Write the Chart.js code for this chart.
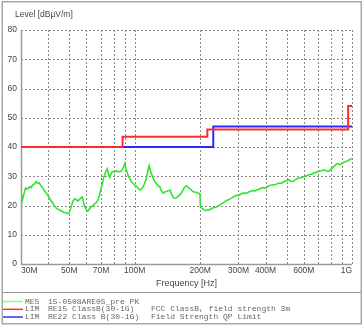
<!DOCTYPE html>
<html>
<head>
<meta charset="utf-8">
<script src="https://cdn.jsdelivr.net/npm/chart.js@4/dist/chart.umd.min.js"></script>
<style>
html,body{margin:0;padding:0;background:#fff;}
canvas{display:block;}
</style>
</head>
<body>
<canvas id="c" width="363" height="326"></canvas>
<script>
// ---- data ----
const xGridValues = [30,40,50,60,70,80,90,100,200,300,400,500,600,700,800,900,1000];
const xTickLabels = {30:'30M',50:'50M',70:'70M',100:'100M',200:'200M',300:'300M',400:'400M',600:'600M',1000:'1G'};
const yTicks = [0,10,20,30,40,50,60,70,80];

const measFreq = [30.0,30.4,30.9,31.5,32.2,32.8,33.4,33.9,34.6,35.2,35.8,36.4,37.2,37.9,38.6,39.2,40.0,40.6,41.3,42.0,42.8,43.6,44.6,45.9,47.0,48.3,49.3,50.2,51.0,52.0,52.9,54.0,54.8,55.5,56.5,57.5,58.2,58.9,59.9,60.9,62.0,63.0,64.2,65.5,66.6,67.8,68.8,69.8,70.8,71.8,72.8,73.8,74.9,75.8,76.8,77.8,78.9,80.5,82.4,84.2,86.4,88.0,89.2,90.1,91.2,92.3,93.6,95.0,96.5,97.9,100.0,101.5,103.0,104.3,105.6,107.5,109.5,111.5,113.3,115.0,116.6,118.5,121.1,123.5,126.7,128.5,130.6,132.8,135.0,137.5,139.8,142.5,145.3,148.0,150.3,153.0,155.7,158.5,161.5,165.0,168.0,170.3,173.0,176.0,179.0,182.0,185.0,188.5,192.0,195.5,198.0,199.6,200.8,203.5,207.0,211.0,215.0,220.0,225.0,230.0,236.0,242.0,248.0,254.0,260.0,266.0,273.0,280.0,286.0,293.0,300.0,308.0,318.0,325.0,333.0,341.0,349.0,358.0,368.0,379.0,390.0,400.0,410.0,420.0,430.0,445.0,460.0,474.0,487.0,500.0,512.0,524.0,536.0,550.0,566.0,583.0,600.0,617.0,634.0,651.0,668.0,686.0,705.0,724.0,743.0,763.0,784.0,805.0,827.0,841.0,855.0,869.0,883.0,907.0,932.0,957.0,982.0,1000.0];
const measLevel = [24.5,21.6,23.8,26.0,25.6,26.4,26.1,27.0,27.4,28.2,27.6,27.7,26.6,25.9,24.9,24.3,23.2,22.6,21.5,20.8,19.8,19.1,18.6,18.2,17.7,17.5,17.2,17.8,19.6,21.4,22.3,22.0,21.5,21.9,22.6,22.9,21.0,19.6,18.6,18.1,18.9,19.5,19.9,20.6,21.0,21.9,23.4,25.3,27.0,29.2,30.5,31.8,32.6,30.6,29.6,30.8,31.6,31.4,31.9,31.5,31.7,32.4,33.4,34.3,32.6,31.4,30.0,29.2,28.3,27.7,27.0,26.6,26.3,25.8,25.4,25.6,26.5,27.8,29.4,31.8,33.6,31.6,29.7,28.3,27.1,26.8,26.3,25.1,24.2,24.6,24.8,25.0,25.3,23.8,22.8,22.4,22.6,23.1,23.6,24.6,25.7,26.4,26.7,26.3,25.8,25.4,24.8,24.6,24.5,24.3,24.1,23.8,19.7,19.1,18.7,18.3,18.4,18.5,18.9,19.2,19.4,19.8,20.3,20.8,21.3,21.8,22.1,22.6,23.0,23.5,23.4,23.9,24.3,24.1,24.5,24.9,25.1,25.0,25.4,25.8,26.1,25.9,26.5,26.9,27.0,27.2,27.7,27.6,28.2,28.5,28.8,28.3,28.2,28.9,29.3,29.5,29.9,30.2,30.5,30.7,31.1,31.4,31.7,31.9,32.2,31.8,31.7,32.6,33.4,33.9,34.4,34.1,34.0,34.6,35.0,35.3,35.8,36.1];

const fccFreq = [30, 88, 216, 960, 1000];
const fccLevel = [40, 43.5, 46, 54, 54];
const en22Freq = [30, 230, 1000];
const en22Level = [40, 47, 47];

const yAxisTitle = 'Level [dBµV/m]';
const xAxisTitle = 'Frequency [Hz]';
const legendRows = [
  ['MES', '15-0508ARE05_pre PK', ''],
  ['LIM', 'RE15 ClassB(30-1G)', 'FCC ClassB, field strength 3m'],
  ['LIM', 'RE22 Class B(30-1G)', 'Field Strength QP Limit']
];
const legendColors = ['#88ff88', '#ff3030', '#3030ff'];

// ---- build ----
const toXY = (xs, ys) => xs.map((x, i) => ({x: x, y: ys[i]}));

const decorPlugin = {
  id: 'decor',
  beforeDraw(chart) {
    const ctx = chart.ctx;
    ctx.save();
    ctx.fillStyle = '#fff';
    ctx.fillRect(0, 0, chart.width, chart.height);
    ctx.restore();
  },
  beforeDatasetsDraw(chart) {
    // dashed grid drawn from the library's scales
    const ctx = chart.ctx;
    const ca = chart.chartArea;
    const xs = chart.scales.x, ys = chart.scales.y;
    ctx.save();
    ctx.strokeStyle = '#8a8a8a';
    ctx.lineWidth = 1;
    ctx.setLineDash([2, 2]);
    xs.ticks.forEach(t => {
      const px = Math.round(xs.getPixelForValue(t.value)) + 0.5;
      ctx.beginPath();
      ctx.moveTo(px, ca.top);
      ctx.lineTo(px, ca.bottom);
      ctx.stroke();
    });
    ys.ticks.forEach(t => {
      const py = Math.round(ys.getPixelForValue(t.value)) + 0.5;
      ctx.beginPath();
      ctx.moveTo(ca.left, py);
      ctx.lineTo(ca.right, py);
      ctx.stroke();
    });
    ctx.setLineDash([]);
    ctx.strokeStyle = '#9a9a9a';
    ctx.lineWidth = 1.5;
    ctx.beginPath();
    ctx.moveTo(ca.left + 0.5, ca.top);
    ctx.lineTo(ca.left + 0.5, ca.bottom + 0.5);
    ctx.lineTo(ca.right, ca.bottom + 0.5);
    ctx.stroke();
    ctx.restore();
  },
  afterDraw(chart) {
    const ctx = chart.ctx;
    const ca = chart.chartArea;
    ctx.save();
    // frame
    ctx.strokeStyle = '#a8a8a8';
    ctx.lineWidth = 1.5;
    ctx.strokeRect(2.25, 1.75, 359, 322);
    ctx.lineWidth = 1;
    ctx.strokeStyle = '#9a9a9a';
    ctx.beginPath();
    ctx.moveTo(2, 292.5);
    ctx.lineTo(361, 292.5);
    ctx.stroke();
    // titles
    ctx.fillStyle = '#444';
    ctx.font = '8.5px "Liberation Sans", Arial, sans-serif';
    ctx.textBaseline = 'middle';
    ctx.textAlign = 'left';
    ctx.fillText(yAxisTitle, 15, 14.5);
    ctx.textAlign = 'center';
    ctx.font = '9px "Liberation Sans", Arial, sans-serif';
    ctx.fillText(xAxisTitle, (ca.left + ca.right) / 2, 283.5);
    // legend
    const rowY = [301.5, 309.3, 317];
    ctx.font = '8px "Liberation Mono", "DejaVu Sans Mono", monospace';
    ctx.textAlign = 'left';
    legendRows.forEach((r, i) => {
      ctx.strokeStyle = legendColors[i];
      ctx.lineWidth = 1.5;
      ctx.beginPath();
      ctx.moveTo(3, rowY[i]);
      ctx.lineTo(23, rowY[i]);
      ctx.stroke();
      ctx.fillStyle = '#666';
      ctx.fillText(r[0], 25, rowY[i]);
      ctx.fillText(r[1], 48, rowY[i]);
      if (r[2]) ctx.fillText(r[2], 151, rowY[i]);
    });
    ctx.restore();
  }
};

new Chart(document.getElementById('c'), {
  type: 'line',
  data: {
    datasets: [
      {
        label: legendRows[0][1],
        data: toXY(measFreq, measLevel),
        borderColor: '#2ee62e',
        borderWidth: 1.6,
        pointRadius: 0,
        tension: 0,
        fill: false
      },
      {
        label: legendRows[1][1],
        data: toXY(fccFreq, fccLevel),
        borderColor: '#ff2a2a',
        borderWidth: 2,
        pointRadius: 0,
        stepped: 'before',
        fill: false
      },
      {
        label: legendRows[2][1],
        data: toXY(en22Freq, en22Level),
        borderColor: '#2a2aff',
        borderWidth: 2,
        pointRadius: 0,
        stepped: 'before',
        fill: false
      }
    ]
  },
  options: {
    responsive: false,
    devicePixelRatio: 1,
    animation: false,
    layout: {padding: {left: 0, right: 11, top: 30, bottom: 32}},
    plugins: {legend: {display: false}, tooltip: {enabled: false}, title: {display: false}},
    scales: {
      x: {
        type: 'logarithmic',
        min: 30,
        max: 1000,
        afterBuildTicks: (axis) => { axis.ticks = xGridValues.map(v => ({value: v})); },
        afterFit: (axis) => { axis.height = 30; },
        ticks: {
          autoSkip: false,
          maxRotation: 0,
          minRotation: 0,
          align: 'inner',
          padding: 2,
          color: '#444',
          font: {family: '"Liberation Sans", Arial, sans-serif', size: 8.5},
          callback: (v) => xTickLabels[v] || ''
        },
        grid: {display: false, drawTicks: false},
        border: {display: false}
      },
      y: {
        min: 0,
        max: 80,
        afterBuildTicks: (axis) => { axis.ticks = yTicks.map(v => ({value: v})); },
        afterFit: (axis) => { axis.width = 21; },
        ticks: {
          padding: 4,
          color: '#444',
          font: {family: '"Liberation Sans", Arial, sans-serif', size: 8.5}
        },
        grid: {display: false, drawTicks: false},
        border: {display: false}
      }
    }
  },
  plugins: [decorPlugin]
});
</script>
</body>
</html>
